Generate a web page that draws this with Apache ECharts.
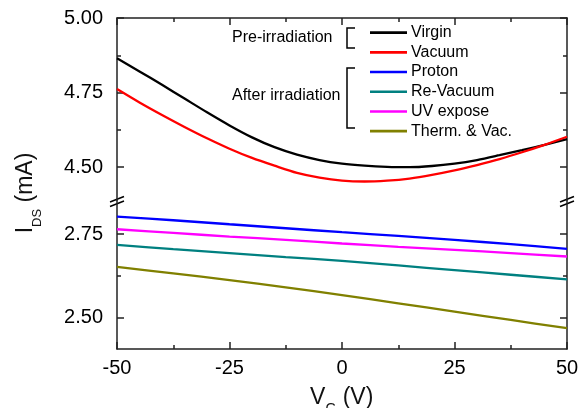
<!DOCTYPE html>
<html>
<head>
<meta charset="utf-8">
<script src="https://cdn.jsdelivr.net/npm/echarts@6/dist/echarts.min.js"></script>
<style>
html, body { margin: 0; padding: 0; background: #fff; }
#main { width: 584px; height: 408px; }
</style>
</head>
<body>
<div id="main"></div>
<script>
// gate voltage and drain current
var vgUpper = [-50, -45, -40, -35, -30, -25, -20, -15, -10, -5, 0, 5, 10, 15, 20, 25, 30, 35, 40, 45, 50];
var virgin = [4.865, 4.821, 4.776, 4.730, 4.684, 4.640, 4.600, 4.567, 4.542, 4.524, 4.512,
              4.505, 4.501, 4.500, 4.504, 4.512, 4.524, 4.540, 4.557, 4.575, 4.594];
var vacuum = [4.762, 4.717, 4.675, 4.635, 4.597, 4.562, 4.531, 4.505, 4.481, 4.465, 4.455,
              4.452, 4.455, 4.462, 4.474, 4.489, 4.507, 4.527, 4.550, 4.575, 4.602];

var vgLower = [-50, -37.5, -25, -12.5, 0, 12.5, 25, 37.5, 50];
var proton   = [2.803, 2.792, 2.780, 2.768, 2.756, 2.745, 2.733, 2.720, 2.706];
var reVacuum = [2.718, 2.705, 2.693, 2.681, 2.670, 2.656, 2.642, 2.628, 2.614];
var uvExpose = [2.765, 2.754, 2.743, 2.733, 2.722, 2.712, 2.703, 2.693, 2.683];
var thermVac = [2.652, 2.632, 2.612, 2.590, 2.567, 2.542, 2.517, 2.492, 2.467];

var xTicks = [-50, -25, 0, 25, 50];
var xMinorTicks = [-37.5, -12.5, 12.5, 37.5];
var upperTicks = [4.50, 4.75, 5.00];
var upperMinorTicks = [4.625, 4.875];
var lowerTicks = [2.50, 2.75];
var lowerMinorTicks = [2.625];

var FONT = 'Arial, "Liberation Sans", sans-serif';
var AXIS = '#222';

function pairs(xs, ys) {
    return xs.map(function (x, i) { return [x, ys[i]]; });
}

function xAx(grid, pos, ticks, len, labels, line) {
    return {
        type: 'value', gridIndex: grid, position: pos, min: -50, max: 50,
        axisLine: { show: line, onZero: false, lineStyle: { color: AXIS, width: 1.5 } },
        axisTick: { show: true, inside: true, length: len, customValues: ticks,
                    lineStyle: { color: AXIS, width: 1.5 } },
        axisLabel: labels ? { customValues: labels, fontSize: 20, fontFamily: FONT, color: '#000', margin: 9 }
                          : { show: false },
        splitLine: { show: false }
    };
}

function yAx(grid, pos, min, max, ticks, len, labels, line) {
    return {
        type: 'value', gridIndex: grid, position: pos, min: min, max: max,
        axisLine: { show: line, onZero: false, lineStyle: { color: AXIS, width: 1.5 } },
        axisTick: { show: true, inside: true, length: len, customValues: ticks,
                    lineStyle: { color: AXIS, width: 1.5 } },
        axisLabel: labels ? { customValues: labels, fontSize: 20, fontFamily: FONT, color: '#000', margin: 14,
                              formatter: function (v) { return v.toFixed(2); } }
                          : { show: false },
        splitLine: { show: false }
    };
}

function ser(name, color, xi, yi, xs, ys) {
    return {
        name: name, type: 'line', xAxisIndex: xi, yAxisIndex: yi,
        data: pairs(xs, ys), smooth: 0.3, symbol: 'none', showSymbol: false,
        lineStyle: { color: color, width: 2.3 }, itemStyle: { color: color },
        emphasis: { disabled: true }
    };
}

var chart = echarts.init(document.getElementById('main'));

var option = {
    animation: false,
    backgroundColor: '#fff',
    grid: [
        { left: 117, right: 17, top: 18, height: 182, outerBoundsMode: 'none' },
        { left: 117, right: 17, top: 200, height: 149, outerBoundsMode: 'none' }
    ],
    xAxis: [
        xAx(0, 'top', xTicks, 7, null, true),
        xAx(0, 'top', xMinorTicks, 4, null, false),
        xAx(1, 'bottom', xTicks, 7, xTicks, true),
        xAx(1, 'bottom', xMinorTicks, 4, null, false)
    ],
    yAxis: [
        yAx(0, 'left', 4.39, 5.0, upperTicks, 7, upperTicks, true),
        yAx(0, 'left', 4.39, 5.0, upperMinorTicks, 4, null, false),
        yAx(0, 'right', 4.39, 5.0, upperTicks, 7, null, true),
        yAx(0, 'right', 4.39, 5.0, upperMinorTicks, 4, null, false),
        yAx(1, 'left', 2.4045, 2.853, lowerTicks, 7, lowerTicks, true),
        yAx(1, 'left', 2.4045, 2.853, lowerMinorTicks, 4, null, false),
        yAx(1, 'right', 2.4045, 2.853, lowerTicks, 7, null, true),
        yAx(1, 'right', 2.4045, 2.853, lowerMinorTicks, 4, null, false)
    ],
    legend: {
        data: ['Virgin', 'Vacuum', 'Proton', 'Re-Vacuum', 'UV expose', 'Therm. & Vac.'],
        orient: 'vertical', left: 365, top: 17.8,
        icon: 'rect', itemWidth: 37, itemHeight: 2.6, itemGap: 0,
        textStyle: { fontSize: 16, fontFamily: FONT, color: '#000', lineHeight: 19.7, padding: [0, 0, 0, -1] },
        selectedMode: false
    },
    graphic: [
        { type: 'text', x: 232, y: 38, style: { text: 'Pre-irradiation', fontSize: 16, fontFamily: FONT,
          fill: '#000', verticalAlign: 'middle' } },
        { type: 'text', x: 232, y: 96, style: { text: 'After irradiation', fontSize: 16, fontFamily: FONT,
          fill: '#000', verticalAlign: 'middle' } },
        { type: 'polyline', shape: { points: [[355, 28], [347, 28], [347, 48], [355, 48]] },
          style: { stroke: '#000', lineWidth: 1.5, fill: null } },
        { type: 'polyline', shape: { points: [[355, 68], [347, 68], [347, 128], [355, 128]] },
          style: { stroke: '#000', lineWidth: 1.5, fill: null } },
        // axis break marks
        { type: 'line', shape: { x1: 110, y1: 202, x2: 124, y2: 196.5 }, style: { stroke: '#000', lineWidth: 1.5 } },
        { type: 'line', shape: { x1: 110, y1: 206.5, x2: 124, y2: 201 }, style: { stroke: '#000', lineWidth: 1.5 } },
        { type: 'line', shape: { x1: 560, y1: 202, x2: 574, y2: 196.5 }, style: { stroke: '#000', lineWidth: 1.5 } },
        { type: 'line', shape: { x1: 560, y1: 206.5, x2: 574, y2: 201 }, style: { stroke: '#000', lineWidth: 1.5 } },
        // axis titles
        { type: 'text', x: 26, y: 193, rotation: Math.PI / 2,
          style: { text: '{m|I}{s|DS}{m| (mA)}', align: 'center', verticalAlign: 'middle', fill: '#111',
                   rich: { m: { fontSize: 23, fontFamily: FONT, lineHeight: 36, verticalAlign: 'middle' },
                           s: { fontSize: 13, fontFamily: FONT, lineHeight: 14, verticalAlign: 'bottom' } } } },
        { type: 'text', x: 341.7, y: 397.7,
          style: { text: '{m|V}{s|G}{m| (V)}', align: 'center', verticalAlign: 'middle', fill: '#111',
                   rich: { m: { fontSize: 23, fontFamily: FONT, lineHeight: 36, verticalAlign: 'middle' },
                           s: { fontSize: 14, fontFamily: FONT, lineHeight: 14, verticalAlign: 'bottom' } } } }
    ],
    series: [
        ser('Virgin', '#000000', 0, 0, vgUpper, virgin),
        ser('Vacuum', '#ff0000', 0, 0, vgUpper, vacuum),
        ser('Proton', '#0000ff', 2, 4, vgLower, proton),
        ser('Re-Vacuum', '#008080', 2, 4, vgLower, reVacuum),
        ser('UV expose', '#ff00ff', 2, 4, vgLower, uvExpose),
        ser('Therm. & Vac.', '#808000', 2, 4, vgLower, thermVac)
    ]
};

chart.setOption(option);
</script>
</body>
</html>
